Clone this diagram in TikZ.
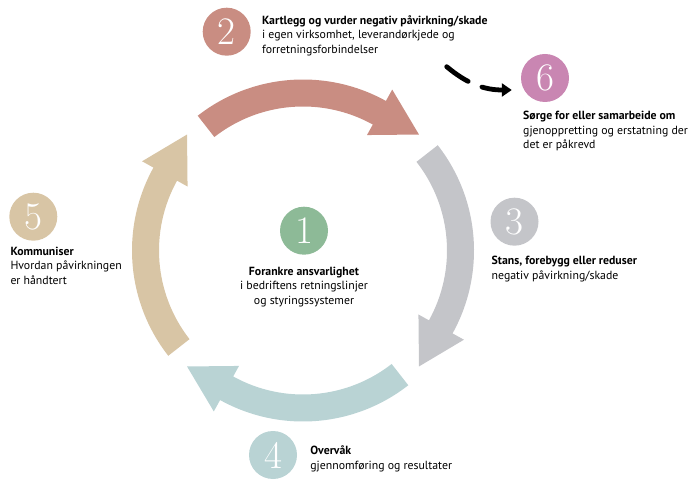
\documentclass[tikz,border=0pt]{standalone}
\usepackage{fontspec}
\newfontfamily\txtfont{PT Sans}
\usetikzlibrary{positioning,arrows.meta}
\definecolor{rust}{RGB}{201,141,130}
\definecolor{stone}{RGB}{196,197,201}
\definecolor{sea}{RGB}{185,211,212}
\definecolor{sand}{RGB}{216,197,165}
\definecolor{sage}{RGB}{141,186,151}
\definecolor{plum}{RGB}{201,134,178}
\begin{document}
\begin{tikzpicture}[x=1pt,y=1pt]
        \tikzstyle{num} = [circle, minimum size=48pt, inner sep=0pt, text=white, font=\fontsize{39}{39}\selectfont]
        \tikzstyle{txt} = [inner sep=0pt, align=left, font=\txtfont\fontsize{11.8}{14.5}\selectfont]
        \tikzstyle{squig} = [line width=4.8pt, line cap=round, dash pattern=on 26pt off 15pt on 60pt, -{Triangle[length=10pt,width=13pt]}]

                \useasboundingbox (0,0) rectangle (695,479);

                % ring of four arrows
                \begin{scope}[shift={(303,228.5)}]
                \foreach \a/\col in {128/rust, 38/stone, -52/sea, -142/sand}
                  \fill[\col] (\a:171) arc[start angle=\a, end angle=\a-67, radius=171]
                    -- ({\a-67}:184) -- ({\a-83}:164) -- ({\a-67}:132) -- ({\a-67}:144)
                    arc[start angle=\a-67, end angle=\a, radius=144] -- cycle;
                \end{scope}

                \node (n1) [num, fill=sage] at (304,248.3) {1};
                \node (n2) [num, fill=rust] at (226.7,447.3) {2};
                \node (n3) [num, fill=stone] at (514.5,257.3) {3};
                \node (n4) [num, fill=sea] at (273,24) {4};
                \node (n5) [num, fill=sand] at (33.3,262.3) {5};
                \node (n6) [num, fill=plum] at (545,401) {6};

                \node (t1) [txt, align=center, below=12pt of n1] {\textbf{Forankre ansvarlighet}\\ i bedriftens retningslinjer\\ og styringssystemer};
                \node (t2) [txt, right=11pt of n2, yshift=-4pt] {\textbf{Kartlegg og vurder negativ påvirkning/skade}\\ i egen virksomhet, leverandørkjede og\\ forretningsforbindelser};
                \node (t3) [txt, below=10pt of n3.south, anchor=north west, xshift=-23pt] {\textbf{Stans, forebygg eller reduser}\\ negativ påvirkning/skade};
                \node (t4) [txt, right=13pt of n4, yshift=-4pt] {\textbf{Overvåk}\\ gjennomføring og resultater};
                \node (t5) [txt, below=6pt of n5.south, anchor=north west, xshift=-23pt] {\textbf{Kommuniser}\\ Hvordan påvirkningen\\ er håndtert};
                \node (t6) [txt, below=9pt of n6.south, anchor=north west, xshift=-22pt] {\textbf{Sørge for eller samarbeide om}\\ gjenoppretting og erstatning der\\ det er påkrevd};

                \coordinate (sq) at (446.7,412.3);
                \draw[squig] (sq) to[out=-40, in=180] ([shift={(-9pt,-12pt)}]n6.west);

    \end{tikzpicture}
\end{document}
